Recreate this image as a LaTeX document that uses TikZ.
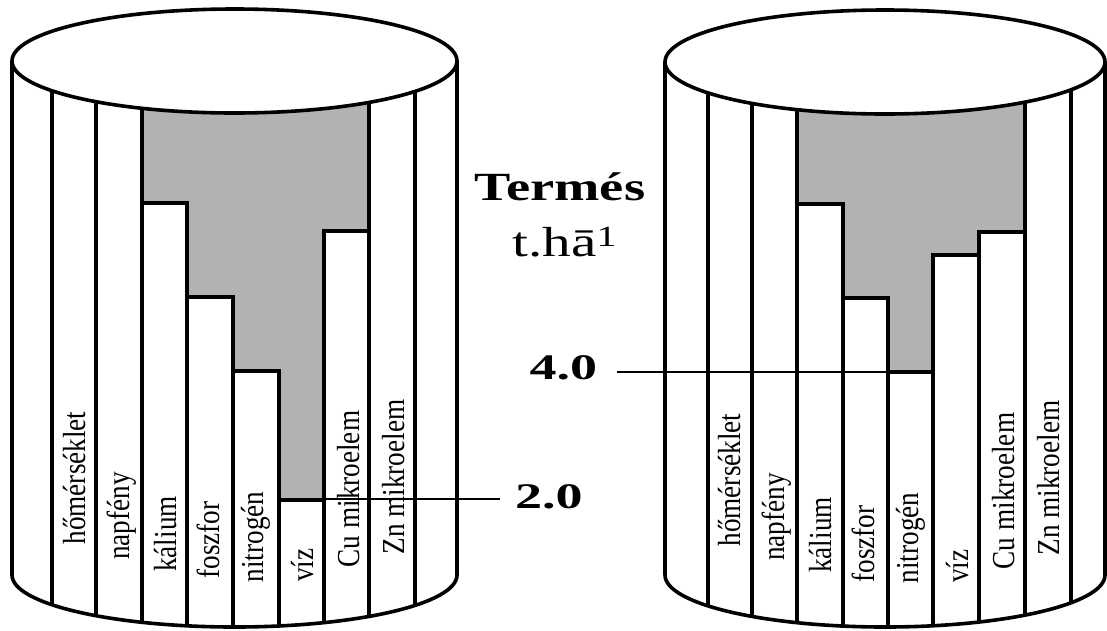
\documentclass[tikz,border=0pt]{standalone}
\usepackage{fontspec}
\setmainfont{Liberation Serif}
\newcommand\stvtext[1]{\scalebox{0.85}[1]{#1}}
\tikzset{
  heavy/.style={line width=3.6pt, line join=miter},
  thinline/.style={line width=1.4pt},
  level/.style={fill=black!30},
  stavelabel/.style={rotate=90, inner sep=0pt, font=\fontsize{32}{34}\selectfont},
  bignum/.style={inner sep=0pt, font=\fontsize{36}{40}\selectfont\bfseries},
}
\begin{document}
\begin{tikzpicture}[x=1pt,y=1pt]
\useasboundingbox (0,0) rectangle (1107,-630);

% ================= LEFT BARREL =================
\begin{scope}
  \clip (12,-61) -- (12,-575) arc[start angle=180,end angle=360,x radius=222.5pt,y radius=52pt] -- (457,-61) -- cycle;
  \foreach \x in {52,96,142,187,233,279,324,369,415}
    \draw[heavy] (\x,-40) -- (\x,-640);
  \fill[level] (142,-40) -- (142,-203) -- (187,-203) -- (187,-297) -- (233,-297) -- (233,-371)
     -- (279,-371) -- (279,-500) -- (324,-500) -- (324,-231) -- (369,-231) -- (369,-40) -- cycle;
  \draw[heavy] (142,-40) -- (142,-203) -- (187,-203) -- (187,-297) -- (233,-297) -- (233,-371)
     -- (279,-371) -- (279,-500) -- (324,-500) -- (324,-231) -- (369,-231) -- (369,-40);
  \node[stavelabel] (l-hom) at (75,-478) {\stvtext{hőmérséklet}};
  \node[stavelabel] (l-nap) at (122,-516) {\stvtext{napfény}};
  \node[stavelabel] (l-kal) at (166,-534) {\stvtext{kálium}};
  \node[stavelabel] (l-fos) at (208,-540) {\stvtext{foszfor}};
  \node[stavelabel] (l-nit) at (256,-537) {\stvtext{nitrogén}};
  \node[stavelabel] (l-viz) at (303,-565) {\stvtext{víz}};
  \node[stavelabel] (l-cu) at (349,-489) {\stvtext{Cu mikroelem}};
  \node[stavelabel] (l-zn) at (394,-477) {\stvtext{Zn mikroelem}};
\end{scope}
\draw[heavy, fill=white] (234.5,-61) ellipse [x radius=222.5pt, y radius=52pt];
\draw[heavy] (12,-61) -- (12,-575) arc[start angle=180,end angle=360,x radius=222.5pt,y radius=52pt] -- (457,-61);

% ================= RIGHT BARREL =================
\begin{scope}
  \clip (665,-62) -- (665,-575) arc[start angle=180,end angle=360,x radius=220pt,y radius=52pt] -- (1105,-62) -- cycle;
  \foreach \x in {708,752,797,843,888,933,979,1025,1071}
    \draw[heavy] (\x,-40) -- (\x,-640);
  \fill[level] (797,-40) -- (797,-204) -- (843,-204) -- (843,-298) -- (888,-298) -- (888,-372)
     -- (933,-372) -- (933,-255) -- (979,-255) -- (979,-232) -- (1025,-232) -- (1025,-40) -- cycle;
  \draw[heavy] (797,-40) -- (797,-204) -- (843,-204) -- (843,-298) -- (888,-298) -- (888,-372)
     -- (933,-372) -- (933,-255) -- (979,-255) -- (979,-232) -- (1025,-232) -- (1025,-40);
  \node[stavelabel] (r-hom) at (730,-480) {\stvtext{hőmérséklet}};
  \node[stavelabel] (r-nap) at (777,-517) {\stvtext{napfény}};
  \node[stavelabel] (r-kal) at (821,-535) {\stvtext{kálium}};
  \node[stavelabel] (r-fos) at (863,-544) {\stvtext{foszfor}};
  \node[stavelabel] (r-nit) at (911,-538) {\stvtext{nitrogén}};
  \node[stavelabel] (r-viz) at (958,-566) {\stvtext{víz}};
  \node[stavelabel] (r-cu) at (1004,-491) {\stvtext{Cu mikroelem}};
  \node[stavelabel] (r-zn) at (1049,-478) {\stvtext{Zn mikroelem}};
\end{scope}
\draw[heavy, fill=white] (885,-62) ellipse [x radius=220pt, y radius=52pt];
\draw[heavy] (665,-62) -- (665,-575) arc[start angle=180,end angle=360,x radius=220pt,y radius=52pt] -- (1105,-62);

% ================= MIDDLE TEXT =================
\node[anchor=base, inner sep=0pt, font=\fontsize{40}{44}\selectfont\bfseries] (termes) at (560,-200)
  {\scalebox{1.36}[1]{Termés}};
\node[anchor=base, inner sep=0pt, font=\fontsize{42}{46}\selectfont] (unit) at (565,-256)
  {\scalebox{1.36}[1]{t.hā\textsuperscript{1}}};

\node[bignum, anchor=east, outer xsep=20pt] (four) at (617,-368) {\scalebox{1.5}[1]{4.0}};
\node[bignum, anchor=west, outer xsep=15pt] (two) at (500,-497) {\scalebox{1.5}[1]{2.0}};

\coordinate (nitroR) at (888,-372);
\coordinate (vizL) at (324,-499);
\draw[thinline] (nitroR -| four.east) -- (nitroR);
\draw[thinline] (vizL) -- (vizL -| two.west);
\end{tikzpicture}
\end{document}
